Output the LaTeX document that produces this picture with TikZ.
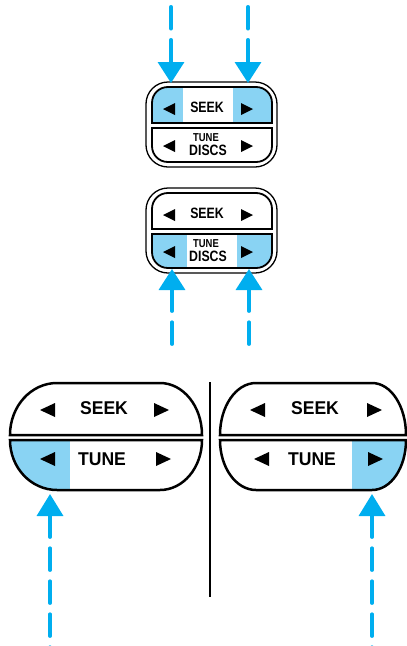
\documentclass[tikz,border=0pt]{standalone}
\usepackage{fontspec}
\newfontfamily\keyfont[FakeStretch=0.82]{Liberation Sans}
\newfontfamily\bigkeyfont[FakeStretch=0.95]{Liberation Sans}
\usetikzlibrary{arrows.meta}
\definecolor{pointer}{RGB}{0,174,239}
\definecolor{lit}{RGB}{137,211,243}
\newcommand{\seekhalf}{(152,123) -- (152,103) .. controls (152,94) and (159,87) .. (168,87) -- (256,87) .. controls (265,87) and (272,94) .. (272,103) -- (272,123) -- cycle}
\newcommand{\tunehalf}{(152,128) -- (272,128) -- (272,146) .. controls (272,155) and (265,162) .. (256,162) -- (168,162) .. controls (159,162) and (152,155) .. (152,146) -- cycle}
\tikzset{
  press/.style={pointer, line width=3.5pt, line cap=round, dash pattern=on 22pt off 11pt},
  pushtip/.style={-{Triangle[width=26pt,length=21pt]}},
  pushback/.style={{Triangle[width=26pt,length=22pt]}-},
  outer rim/.style={line width=1.3pt, rounded corners=22pt},
  inner rim/.style={line width=1.8pt},
  big rim/.style={line width=2.5pt},
  small key/.style={inner sep=0pt, font=\keyfont\bfseries\fontsize{15}{15}\selectfont},
  tiny key/.style={inner sep=0pt, font=\keyfont\bfseries\fontsize{11.5}{11.5}\selectfont},
  big key/.style={inner sep=0pt, font=\bigkeyfont\bfseries\fontsize{18.5}{18.5}\selectfont}
}

\begin{document}
\begin{tikzpicture}[x=1pt,y=-1pt]
\useasboundingbox (0,0) rectangle (407,646);

% small keypad, SEEK pressed
\begin{scope}
\clip \seekhalf;
\fill[lit] (150,80) rectangle (183,130);
\fill[lit] (233,80) rectangle (275,130);
\end{scope}
\draw[outer rim] (146,82) rectangle (277,167);
\draw[inner rim] \seekhalf;
\draw[inner rim] \tunehalf;
\foreach \x/\y/\d in {163/109/1, 253/109/-1, 163/146/1, 253/146/-1}
  \fill (\x,\y) -- ++(12*\d,-6) -- ++(0,12) -- cycle;
\node[small key] (seekA) at (207,107.5) {SEEK};
\node[tiny key] (tuneA) at (206,138) {TUNE};
\node[small key] (discsA) at (208,150.5) {DISCS};

% small keypad, TUNE/DISCS pressed
\begin{scope}[shift={(0,106)}]
\begin{scope}
\clip \tunehalf;
\fill[lit] (150,125) rectangle (187,165);
\fill[lit] (237,125) rectangle (275,165);
\end{scope}
\draw[outer rim] (146,82) rectangle (277,167);
\draw[inner rim] \seekhalf;
\draw[inner rim] \tunehalf;
\foreach \x/\y/\d in {163/109/1, 253/109/-1, 163/146/1, 253/146/-1}
  \fill (\x,\y) -- ++(12*\d,-6) -- ++(0,12) -- cycle;
\node[small key] (seekB) at (207,107.5) {SEEK};
\node[tiny key] (tuneB) at (206,138) {TUNE};
\node[small key] (discsB) at (208,150.5) {DISCS};
\end{scope}

% pointers to the small keypads
\coordinate (inL) at (171,6.75);
\coordinate (inLtip) at (171,83);
\coordinate (inR) at (248,6.75);
\coordinate (inRtip) at (248,83);
\coordinate (upL) at (172,347);
\coordinate (upLtip) at (172,269);
\coordinate (upR) at (249,347);
\coordinate (upRtip) at (249,269);
\draw[press, pushtip] (inL) -- (inLtip);
\draw[press, pushtip] (inR) -- (inRtip);
\draw[press, {Triangle[width=26pt,length=21pt]}-] (upLtip) -- (upL);
\draw[press, {Triangle[width=26pt,length=21pt]}-] (upRtip) -- (upR);

% large keypad, left
\begin{scope}
\clip (10,440) -- (202,440) .. controls (202,467.6) and (183.2,490) .. (160,490) -- (57,490) .. controls (31,490) and (10,467.6) .. (10,440) -- cycle;
\fill[lit] (5,435) rectangle (70,495);
\end{scope}
\draw[big rim] (10,435) .. controls (10,406.3) and (31,383) .. (57,383) -- (160,383) .. controls (183.2,383) and (202,406.3) .. (202,435) -- cycle;
\draw[big rim] (10,440) -- (202,440) .. controls (202,467.6) and (183.2,490) .. (160,490) -- (57,490) .. controls (31,490) and (10,467.6) .. (10,440) -- cycle;

% large keypad, right
\begin{scope}
\clip (220,440) -- (406,440) .. controls (406,467.6) and (391,490) .. (372,490) -- (256,490) .. controls (236,490) and (220,467.6) .. (220,440) -- cycle;
\fill[lit] (352,435) rectangle (410,495);
\end{scope}
\draw[big rim] (220,435) .. controls (220,406.3) and (236,383) .. (256,383) -- (372,383) .. controls (391,383) and (406,406.3) .. (406,435) -- cycle;
\draw[big rim] (220,440) -- (406,440) .. controls (406,467.6) and (391,490) .. (372,490) -- (256,490) .. controls (236,490) and (220,467.6) .. (220,440) -- cycle;

\foreach \x/\y/\d in {40/410/1, 169/410/-1, 40/459/1, 171/459/-1, 250/410/1, 382/410/-1, 254/459/1, 383/459/-1}
  \fill (\x,\y) -- ++(15*\d,-7) -- ++(0,14) -- cycle;
\node[big key] (seekL) at (104,408) {SEEK};
\node[big key] (tuneL) at (102,459) {TUNE};
\node[big key] (seekR) at (315,408) {SEEK};
\node[big key] (tuneR) at (312,459) {TUNE};

\draw[line width=1.6pt] (210,382) -- (210,597);

% pointers to the large keypads
\coordinate (lowL) at (50,650);
\coordinate (lowLtip) at (50,494);
\coordinate (lowR) at (372,650);
\coordinate (lowRtip) at (372,494);
\draw[press, pushback] (lowLtip) -- (lowL);
\draw[press, pushback] (lowRtip) -- (lowR);
\end{tikzpicture}
\end{document}
